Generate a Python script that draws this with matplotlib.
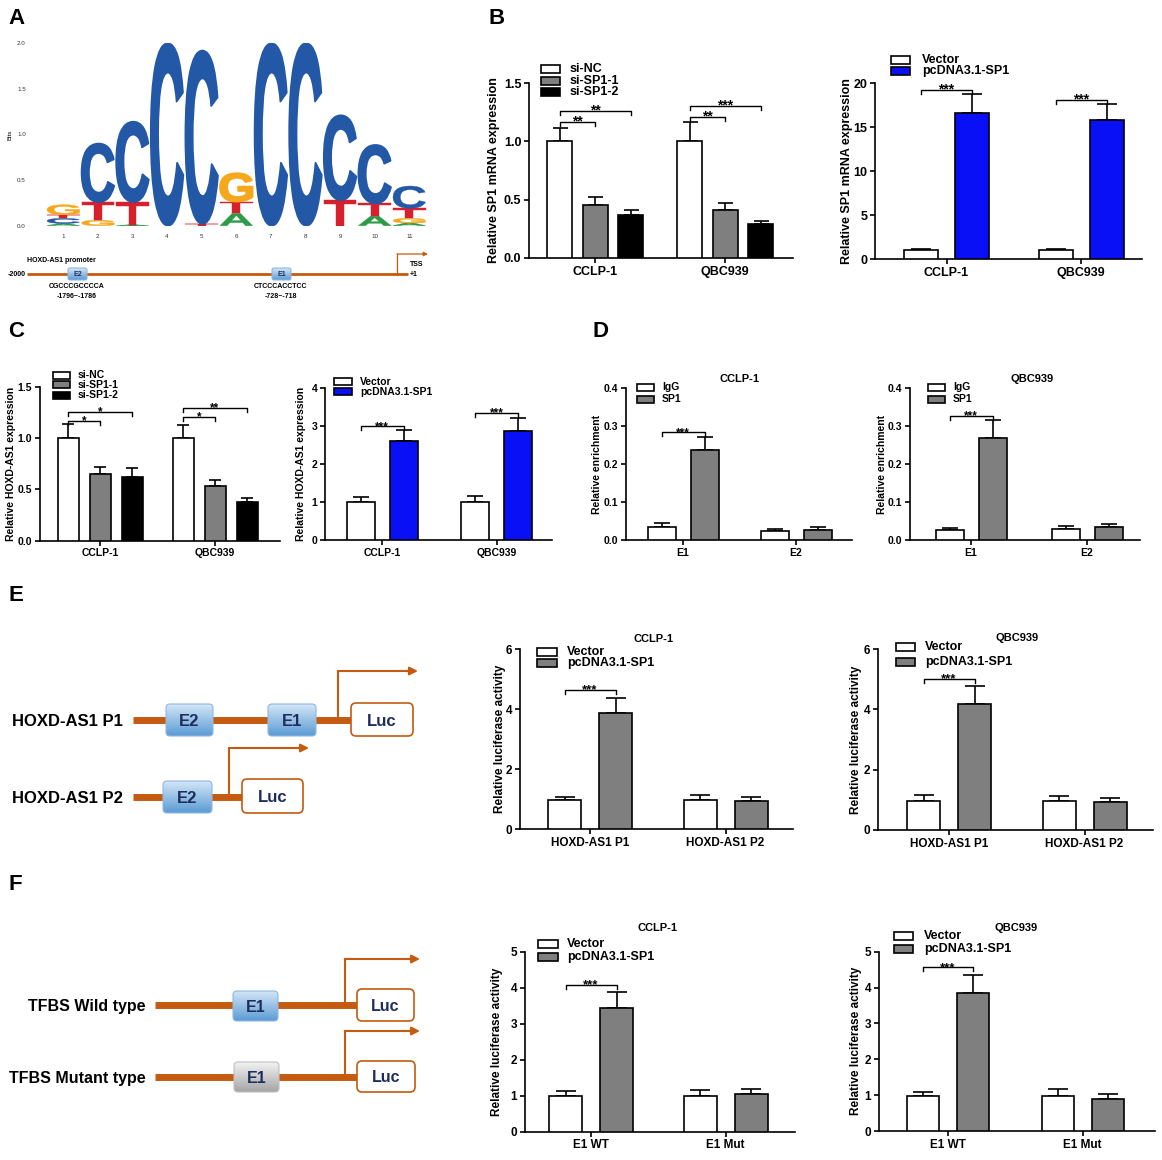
import numpy as np
import matplotlib
matplotlib.use('Agg')
import matplotlib.pyplot as plt
from matplotlib.patches import Rectangle, FancyBboxPatch, PathPatch
from matplotlib.textpath import TextPath
from matplotlib.font_manager import FontProperties
from matplotlib.colors import LinearSegmentedColormap
from matplotlib.ticker import FormatStrFormatter
import matplotlib.transforms as mtransforms

W, H = 1162, 1160

plt.rcParams['font.family'] = ['Liberation Sans', 'DejaVu Sans']
plt.rcParams['font.weight'] = 'bold'
plt.rcParams['axes.labelweight'] = 'bold'

# ---------------- data ----------------
# A: SP1 motif logo (bits per letter, stacked bottom -> top)
logo_letters = ['ACTG', 'GTC', 'ATC', 'C', 'TC', 'ATG', 'C', 'C', 'TC', 'ATC', 'AGTC']
logo_bits = [[0.025, 0.055, 0.04, 0.11],
             [0.06, 0.2, 0.64],
             [0.01, 0.25, 0.88],
             [2.0],
             [0.02, 1.9],
             [0.135, 0.13, 0.31],
             [2.0],
             [2.0],
             [0.28, 0.93],
             [0.105, 0.14, 0.64],
             [0.03, 0.05, 0.11, 0.245]]

cell_lines = ['CCLP-1', 'QBC939']
si_groups = ['si-NC', 'si-SP1-1', 'si-SP1-2']
oe_groups = ['Vector', 'pcDNA3.1-SP1']
chip_groups = ['IgG', 'SP1']
chip_sites = ['E1', 'E2']
p_constructs = ['HOXD-AS1 P1', 'HOXD-AS1 P2']
e1_constructs = ['E1 WT', 'E1 Mut']

# B: SP1 mRNA (rows = series, cols = cell lines)
b1_mean = [[1.0, 1.0], [0.45, 0.413], [0.367, 0.29]]
b1_err = [[0.116, 0.17], [0.07, 0.062], [0.046, 0.03]]
b1_sig = [(0, 0, 1, 1.167, '**'), (0, 0, 2, 1.258, '**'),
          (1, 0, 1, 1.21, '**'), (1, 0, 2, 1.30, '***')]
b2_mean = [[1.02, 1.02], [16.6, 15.84]]
b2_err = [[0.15, 0.1], [2.1, 1.82]]
b2_sig = [(0, 0, 1, 19.24, '***'), (1, 0, 1, 18.1, '***')]

# C: HOXD-AS1 expression
c1_mean = [[1.0, 1.0], [0.65, 0.536], [0.623, 0.38]]
c1_err = [[0.14, 0.123], [0.07, 0.052], [0.087, 0.032]]
c1_sig = [(0, 0, 1, 1.169, '*'), (0, 0, 2, 1.256, '*'),
          (1, 0, 1, 1.208, '*'), (1, 0, 2, 1.295, '**')]
c2_mean = [[0.99, 0.99], [2.62, 2.87]]
c2_err = [[0.15, 0.17], [0.28, 0.36]]
c2_sig = [(0, 0, 1, 3.0, '***'), (1, 0, 1, 3.36, '***')]

# D: ChIP enrichment
d1_mean = [[0.035, 0.023], [0.236, 0.026]]
d1_err = [[0.009, 0.005], [0.035, 0.007]]
d1_sig = [(0, 0, 1, 0.283, '***')]
d2_mean = [[0.025, 0.029], [0.269, 0.033]]
d2_err = [[0.006, 0.009], [0.046, 0.008]]
d2_sig = [(0, 0, 1, 0.326, '***')]

# E: luciferase, promoter fragments
e1_mean = [[0.98, 0.98], [3.89, 0.94]]
e1_err = [[0.11, 0.16], [0.5, 0.13]]
e1_sig = [(0, 0, 1, 4.64, '***')]
e2_mean = [[0.97, 0.97], [4.17, 0.94]]
e2_err = [[0.19, 0.16], [0.61, 0.11]]
e2_sig = [(0, 0, 1, 5.0, '***')]

# F: luciferase, wild type / mutant
f1_mean = [[0.99, 0.99], [3.43, 1.06]]
f1_err = [[0.14, 0.17], [0.46, 0.13]]
f1_sig = [(0, 0, 1, 4.07, '***')]
f2_mean = [[0.98, 0.98], [3.84, 0.9]]
f2_err = [[0.11, 0.18], [0.51, 0.12]]
f2_sig = [(0, 0, 1, 4.56, '***')]

# ---------------- style ----------------
WHITE, GREY, BLACK, BLUE = 'white', '#7f7f7f', 'black', '#0a10f5'
ORANGE = '#c55a11'
NAVY = '#1f2d5c'
LETTER_COLOR = {'A': '#2d9a47', 'C': '#2258a5', 'G': '#f5a81c', 'T': '#d7202c'}

fig = plt.figure(figsize=(W / 100, H / 100), dpi=100)


def px_axes(left, right, top, bottom, **kw):
    return fig.add_axes([left / W, 1 - bottom / H, (right - left) / W, (bottom - top) / H], **kw)


def bar_panel(px, centers, bar_w, step, ymax, yticks, yfmt, cats, means, errs, colors,
              sigs, fs, ylabel, ylab_x):
    ax = px_axes(*px)
    ax.patch.set_alpha(0)
    s = centers[1] - centers[0]
    ax.set_xlim((px[0] - centers[0]) / s, (px[1] - centers[0]) / s)
    ax.set_ylim(0, ymax)
    xc = np.arange(len(cats))
    n = len(means)
    offs = (np.arange(n) - (n - 1) / 2) * step / s
    for k in range(n):
        xs = xc + offs[k]
        ax.bar(xs, means[k], width=bar_w / s, color=colors[k], edgecolor='black',
               linewidth=1.2, zorder=3)
        ax.errorbar(xs, means[k], yerr=[np.zeros(len(cats)), errs[k]], fmt='none',
                    ecolor='black', elinewidth=1.2, capsize=0.3 * bar_w * 0.72,
                    capthick=1.2, zorder=2)
    drop = 4 * ymax / (px[3] - px[2])
    for ci, i, j, h, lab in sigs:
        xa, xb = ci + offs[i], ci + offs[j]
        ax.plot([xa, xa, xb, xb], [h - drop, h, h, h - drop], color='black', lw=1.0,
                clip_on=False)
        ax.annotate(lab, ((xa + xb) / 2, h), xytext=(0, -2.5), textcoords='offset points',
                    ha='center', va='baseline', fontsize=fs + 1, annotation_clip=False)
    for sp in ['top', 'right']:
        ax.spines[sp].set_visible(False)
    for sp in ['left', 'bottom']:
        ax.spines[sp].set_linewidth(1.2)
    ax.tick_params(width=1.2, length=3.5, labelsize=fs, pad=2)
    ax.set_xticks(xc)
    ax.set_xticklabels(cats)
    ax.set_yticks(yticks)
    ax.yaxis.set_major_formatter(FormatStrFormatter(yfmt))
    ax.set_ylabel(ylabel, fontsize=fs)
    ax.yaxis.set_label_coords((ylab_x + 0.42 * fs * 100 / 72 - px[0]) / (px[1] - px[0]), 0.5)
    return ax


# ---------------- panel A: logo ----------------
lax = px_axes(30, 430, 43.3, 225.7)
lax.patch.set_alpha(0)
col_step = 34.6
lax.set_xlim(1 - (63.3 - 30) / col_step, 11 + (430 - 409.3) / col_step)
lax.set_ylim(0, 2.0)
fp = FontProperties(family='Liberation Sans', weight='bold')
for i, (letters, bits) in enumerate(zip(logo_letters, logo_bits)):
    base = 0.0
    for ch, b in zip(letters, bits):
        tp = TextPath((0, 0), ch, size=1, prop=fp)
        bb = tp.get_extents()
        w = 0.94
        t = (mtransforms.Affine2D().translate(-bb.x0, -bb.y0)
             .scale(w / bb.width, b / bb.height).translate(i + 1 - w / 2, base))
        lax.add_patch(PathPatch(t.transform_path(tp), fc=LETTER_COLOR[ch],
                                ec=LETTER_COLOR[ch], lw=1.3 if b > 0.3 else 0.3,
                                joinstyle='round'))
        base += b
for sp in lax.spines.values():
    sp.set_visible(False)
lax.set_xticks(range(1, 12))
lax.set_yticks([0, 0.5, 1.0, 1.5, 2.0])
lax.yaxis.set_major_formatter(FormatStrFormatter('%.1f'))
lax.tick_params(length=0, labelsize=4.5, labelcolor='#333333', pad=3)
lax.tick_params(axis='x', pad=6)
for lab in lax.get_xticklabels() + lax.get_yticklabels():
    lab.set_fontweight('normal')
lax.set_ylabel('Bits', fontsize=4.5, fontweight='normal')
lax.yaxis.set_label_coords(-0.045, 0.5)

# ---------------- bar charts ----------------
bar_panel((529, 793, 83, 258), (595, 725), 25, 35.5, 1.5, [0, 0.5, 1.0, 1.5], '%.1f',
          cell_lines, b1_mean, b1_err, [WHITE, GREY, BLACK], b1_sig, 9,
          'Relative SP1 mRNA expression', 495)
bar_panel((875, 1142, 83, 259), (946.5, 1081), 34, 51, 20, [0, 5, 10, 15, 20], '%d',
          cell_lines, b2_mean, b2_err, [WHITE, BLUE], b2_sig, 9,
          'Relative SP1 mRNA expression', 848)
bar_panel((40, 280, 386.7, 540.7), (100, 215), 21, 32, 1.5, [0, 0.5, 1.0, 1.5], '%.1f',
          cell_lines, c1_mean, c1_err, [WHITE, GREY, BLACK], c1_sig, 7.5,
          'Relative HOXD-AS1 expression', 12)
bar_panel((325, 552, 388.3, 540), (382, 496.5), 28, 43, 4, [0, 1, 2, 3, 4], '%d',
          cell_lines, c2_mean, c2_err, [WHITE, BLUE], c2_sig, 7.5,
          'Relative HOXD-AS1 expression', 302)
bar_panel((626, 852, 388, 540), (683, 796), 28, 43, 0.4, [0, 0.1, 0.2, 0.3, 0.4], '%.1f',
          chip_sites, d1_mean, d1_err, [WHITE, GREY], d1_sig, 7.5,
          'Relative enrichment', 598)
bar_panel((910, 1140, 388, 540), (971, 1087), 28, 43, 0.4, [0, 0.1, 0.2, 0.3, 0.4], '%.1f',
          chip_sites, d2_mean, d2_err, [WHITE, GREY], d2_sig, 7.5,
          'Relative enrichment', 883)
bar_panel((520, 793, 649.3, 829.3), (590, 725.5), 33, 51, 6, [0, 2, 4, 6], '%d',
          p_constructs, e1_mean, e1_err, [WHITE, GREY], e1_sig, 8.5,
          'Relative luciferase activity', 501)
bar_panel((878, 1153, 649, 830), (949, 1084.5), 33, 51, 6, [0, 2, 4, 6], '%d',
          p_constructs, e2_mean, e2_err, [WHITE, GREY], e2_sig, 8.5,
          'Relative luciferase activity', 857)
bar_panel((525, 795, 951.7, 1131.7), (591, 725.5), 33, 51, 5, [0, 1, 2, 3, 4, 5], '%d',
          e1_constructs, f1_mean, f1_err, [WHITE, GREY], f1_sig, 8.5,
          'Relative luciferase activity', 498)
bar_panel((879, 1155, 951.7, 1131), (948, 1082.5), 32, 50, 5, [0, 1, 2, 3, 4, 5], '%d',
          e1_constructs, f2_mean, f2_err, [WHITE, GREY], f2_sig, 8.5,
          'Relative luciferase activity', 857)

# ---------------- overlay: legends, titles, schematics ----------------
ov = fig.add_axes([0, 0, 1, 1], zorder=10)
ov.patch.set_alpha(0)
ov.axis('off')


def legend(labels, colors, sq_x, rows, sq_h, text_x, fs):
    for lab, col, y in zip(labels, colors, rows):
        ov.add_patch(Rectangle((sq_x[0], y - sq_h / 2), sq_x[1] - sq_x[0], sq_h, fc=col,
                               ec='black', lw=1.2))
        ov.text(text_x, y, lab, fontsize=fs, va='center', ha='left')


legend(si_groups, [WHITE, GREY, BLACK], (541, 560), [69, 80.7, 91.7], 8, 570, 9)
legend(oe_groups, [WHITE, BLUE], (891, 910), [60, 71], 8, 922, 9)
legend(si_groups, [WHITE, GREY, BLACK], (53, 70), [375, 384.5, 395], 7, 78, 7.5)
legend(oe_groups, [WHITE, BLUE], (334, 352), [381.7, 391.7], 7, 360, 7.5)
legend(chip_groups, [WHITE, GREY], (637, 654), [387, 399], 7, 662, 7.5)
legend(chip_groups, [WHITE, GREY], (928, 945), [387, 399], 7, 953, 7.5)
legend(oe_groups, [WHITE, GREY], (537, 557), [652, 663.3], 8, 567, 9)
legend(oe_groups, [WHITE, GREY], (896, 915), [647.3, 661.7], 8, 925, 9)
legend(oe_groups, [WHITE, GREY], (538, 558), [944, 956.7], 8, 567, 9)
legend(oe_groups, [WHITE, GREY], (894, 913), [936, 949.3], 8, 924, 9)

for x, y, t in [(740, 379, 'CCLP-1'), (1032, 379, 'QBC939'),
                (653, 639, 'CCLP-1'), (1017, 638, 'QBC939'),
                (658, 928, 'CCLP-1'), (1016, 928, 'QBC939')]:
    ov.text(x, y, t, fontsize=8, ha='center', va='center')

for x, y, t in [(8, 8, 'A'), (488, 8, 'B'), (8, 321, 'C'), (592, 321, 'D'),
                (8, 585, 'E'), (8, 874, 'F')]:
    ov.text(x, y, t, fontsize=16, ha='left', va='top')


def text_caps(x, y, s, fs, ha='center', color='black'):
    # vertically centre capitals on y (pixel coords, y downward)
    ov.text(x, y + 0.36 * fs * 100 / 72, s, fontsize=fs, ha=ha, va='baseline', color=color,
            zorder=6)


def dna(x0, x1, y, lw):
    ov.plot([x0, x1], [y, y], color=ORANGE, lw=lw, solid_capstyle='butt', zorder=2)


def site_box(x0, x1, y0, y1, label, fs, top, bottom, edge, r=4):
    patch = FancyBboxPatch((x0, y0), x1 - x0, y1 - y0,
                           boxstyle=f'round,pad=0,rounding_size={r}', fc='none', ec=edge,
                           lw=0.8, zorder=4)
    ov.add_patch(patch)
    cm = LinearSegmentedColormap.from_list('g', [top, bottom])
    im = ov.imshow(np.linspace(0, 1, 64).reshape(-1, 1), extent=(x0, x1, y1, y0), cmap=cm,
                   aspect='auto', zorder=3, interpolation='bilinear')
    im.set_clip_path(patch)
    text_caps((x0 + x1) / 2, (y0 + y1) / 2, label, fs, color=NAVY)


def luc_box(x0, x1, y0, y1, fs):
    ov.add_patch(FancyBboxPatch((x0, y0), x1 - x0, y1 - y0,
                                boxstyle='round,pad=0,rounding_size=5', fc='white',
                                ec=ORANGE, lw=1.2, zorder=4))
    text_caps((x0 + x1) / 2, (y0 + y1) / 2, 'Luc', fs, color=NAVY)


def tss(x, y_row, y_top, x_end, lw, ms):
    ov.plot([x, x], [y_row, y_top], color=ORANGE, lw=lw, solid_capstyle='projecting',
            zorder=2)
    ov.annotate('', xy=(x_end, y_top), xytext=(x, y_top),
                arrowprops=dict(arrowstyle='-|>', color=ORANGE, lw=lw, mutation_scale=ms,
                                shrinkA=0, shrinkB=0), zorder=2)


BLUE_BOX = ('#d3e6f7', '#5b9bd5', '#8fb8e0')
GREY_BOX = ('#f2f2f2', '#a5a5a5', '#bfbfbf')

# A: promoter
dna(27, 408, 274, 2)
tss(397, 274, 254, 428, 0.9, 6)
ov.text(26, 274, '-2000', fontsize=5, ha='right', va='center')
ov.text(27, 261, 'HOXD-AS1 promoter', fontsize=5, ha='left', va='center')
site_box(68, 87, 268, 280, 'E2', 5, *BLUE_BOX, r=2)
site_box(272, 291, 268, 280, 'E1', 5, *BLUE_BOX, r=2)
ov.text(77, 287, 'CGCCCGCCCCA', fontsize=5, ha='center', va='center')
ov.text(77, 296, '-1796~-1786', fontsize=5, ha='center', va='center')
ov.text(281, 287, 'CTCCCACCTCC', fontsize=5, ha='center', va='center')
ov.text(281, 296, '-728~-718', fontsize=5, ha='center', va='center')
ov.text(410, 265, 'TSS', fontsize=5, ha='left', va='center')
ov.text(410, 275, '+1', fontsize=5, ha='left', va='center')

# E: promoter fragments
text_caps(123, 720, 'HOXD-AS1 P1', 12, ha='right')
dna(133, 352, 720, 5)
site_box(166, 213, 704, 736, 'E2', 12, *BLUE_BOX)
site_box(268, 316, 704, 736, 'E1', 12, *BLUE_BOX)
tss(338, 720, 671, 418, 1.5, 12)
luc_box(351, 413, 703, 736, 12)
text_caps(123, 797, 'HOXD-AS1 P2', 12, ha='right')
dna(133, 243, 797, 5)
site_box(163, 212, 781, 813, 'E2', 12, *BLUE_BOX)
tss(229, 797, 748, 309, 1.5, 12)
luc_box(242, 303, 779, 813, 12)

# F: wild type / mutant binding site
text_caps(146, 1005, 'TFBS Wild type', 11.5, ha='right')
dna(155, 358, 1005, 5)
site_box(233, 278, 991, 1021, 'E1', 11.5, *BLUE_BOX)
tss(345, 1005, 959, 420, 1.5, 12)
luc_box(357, 414, 989, 1021, 11.5)
text_caps(146, 1077, 'TFBS Mutant type', 11.5, ha='right')
dna(155, 358, 1077, 5)
site_box(234, 279, 1062, 1092, 'E1', 11.5, *GREY_BOX)
tss(345, 1077, 1031, 420, 1.5, 12)
luc_box(357, 415, 1061, 1092, 11.5)

ov.set_xlim(0, W)
ov.set_ylim(H, 0)

fig.savefig('out.png', dpi=100)
